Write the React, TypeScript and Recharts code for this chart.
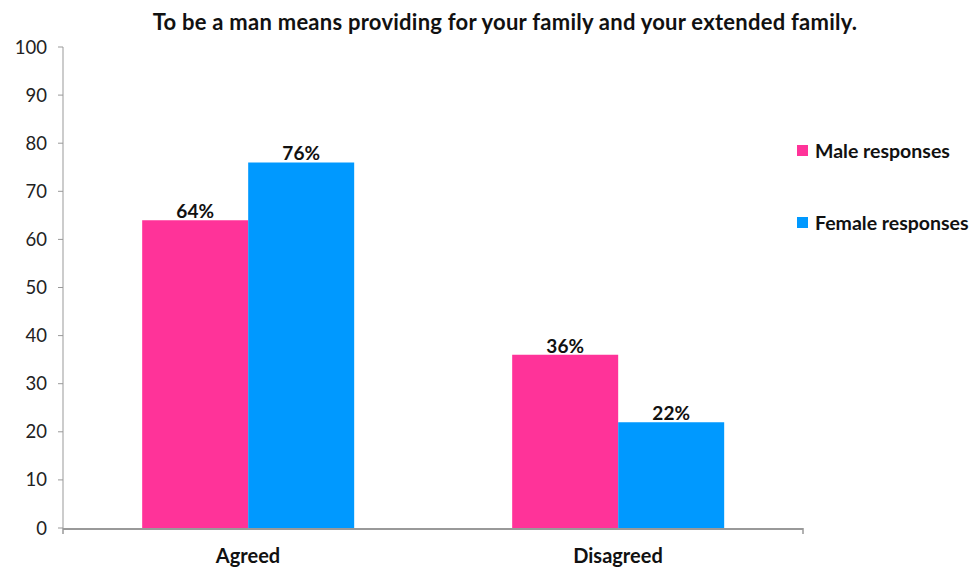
import React from 'react';
import { BarChart, Bar, XAxis, YAxis, LabelList } from 'recharts';

const categories = ['Agreed', 'Disagreed'];
const maleValues = [64, 36];
const femaleValues = [76, 22];
const yTicks = [0, 10, 20, 30, 40, 50, 60, 70, 80, 90, 100];
const seriesNames = ['Male responses', 'Female responses'];

const MALE = '#FF3399';
const FEMALE = '#0099FF';
const FONT = 'Lato, "Open Sans", sans-serif';

const data = categories.map((name, i) => ({ name, male: maleValues[i], female: femaleValues[i] }));

const LegendBox = () => (
  <div
    style={{
      position: 'absolute',
      left: 797,
      top: 139,
      fontFamily: FONT,
      fontWeight: 700,
      fontSize: 19.5,
      color: '#111',
    }}
  >
    {[
      { label: seriesNames[0], color: MALE },
      { label: seriesNames[1], color: FEMALE },
    ].map((it, i) => (
      <div key={it.label} style={{ display: 'flex', alignItems: 'center', height: 22, marginBottom: i === 0 ? 50 : 0 }}>
        <span style={{ width: 11, height: 11, background: it.color, display: 'inline-block', marginRight: 7 }} />
        {it.label}
      </div>
    ))}
  </div>
);

const App: React.FC = () => (
  <div style={{ position: 'absolute', left: 0, top: 0, width: 976, height: 569, background: '#fff' }}>
    <div
      style={{
        position: 'absolute',
        top: 8,
        left: 0,
        width: 1010,
        textAlign: 'center',
        fontFamily: FONT,
        fontWeight: 700,
        fontSize: 22,
        letterSpacing: 0.25,
        color: '#111',
      }}
    >
      To be a man means providing for your family and your extended family.
    </div>
    <BarChart
      width={976}
      height={569}
      data={data}
      margin={{ top: 47, right: 173, bottom: 0, left: 0 }}
      barCategoryGap="21.4%"
      barGap={0}
    >
      <XAxis
        xAxisId="bound"
        type="number"
        domain={[0, 2]}
        ticks={[0, 1, 2]}
        height={1}
        axisLine={false}
        tickLine={{ stroke: '#999', strokeWidth: 1.5 }}
        tickSize={6}
        tick={{ fontSize: 1, fill: 'transparent' }}
        tickFormatter={() => ' '}
      />
      <XAxis
        xAxisId="cat"
        dataKey="name"
        height={40}
        axisLine={{ stroke: '#999', strokeWidth: 2 }}
        tickLine={false}
        tick={{ fill: '#111', fontFamily: FONT, fontWeight: 700, fontSize: 20 }}
        dy={12}
      />
      <YAxis
        width={63}
        domain={[0, 100]}
        ticks={yTicks}
        interval={0}
        axisLine={{ stroke: '#999' }}
        tickLine={{ stroke: '#999' }}
        tickSize={5}
        tick={{ fill: '#222', fontFamily: FONT, fontSize: 18.5 }}
        dx={-9}
      />
      <Bar xAxisId="cat" dataKey="male" name={seriesNames[0]} fill={MALE} isAnimationActive={false}>
        <LabelList
          dataKey="male"
          position="top"
          offset={2}
          formatter={(v: number) => `${v}%`}
          style={{ fill: '#111', fontFamily: FONT, fontWeight: 700, fontSize: 19 }}
        />
      </Bar>
      <Bar xAxisId="cat" dataKey="female" name={seriesNames[1]} fill={FEMALE} isAnimationActive={false}>
        <LabelList
          dataKey="female"
          position="top"
          offset={2}
          formatter={(v: number) => `${v}%`}
          style={{ fill: '#111', fontFamily: FONT, fontWeight: 700, fontSize: 19 }}
        />
      </Bar>
    </BarChart>
    <LegendBox />
  </div>
);

export default App;
